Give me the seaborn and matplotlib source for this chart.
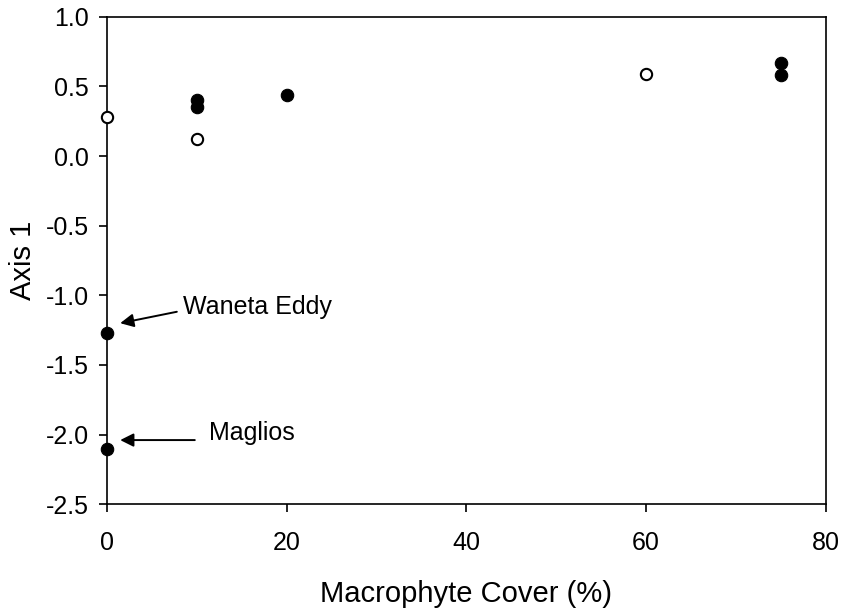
import matplotlib
matplotlib.use("Agg")
import matplotlib.pyplot as plt
import seaborn as sns
import pandas as pd

# Macrophyte cover (%) and ordination scores on axis 1
cover_open = [0, 10, 60]
axis1_open = [0.28, 0.12, 0.59]

cover_filled = [10, 10, 20, 75, 75, 0, 0]
axis1_filled = [0.40, 0.35, 0.44, 0.67, 0.58, -1.27, -2.10]

x_ticks = [0, 20, 40, 60, 80]
y_ticks = [-2.5, -2.0, -1.5, -1.0, -0.5, 0.0, 0.5, 1.0]

site_labels = ["Waneta Eddy", "Maglios"]
site_points = [(0, -1.27), (0, -2.10)]

sns.set_theme(style="white")
plt.rcParams["font.family"] = ["Liberation Sans", "DejaVu Sans"]

df_open = pd.DataFrame({"cover": cover_open, "axis1": axis1_open})
df_filled = pd.DataFrame({"cover": cover_filled, "axis1": axis1_filled})

fig = plt.figure(figsize=(8.42, 6.13), dpi=100)
W, H = 842, 613
left, right, top, bottom = 106.7, 826.0, 16.7, 504.3
ax = fig.add_axes([left / W, 1 - bottom / H, (right - left) / W, (bottom - top) / H])

sns.scatterplot(data=df_filled, x="cover", y="axis1", ax=ax, s=80,
                color="black", edgecolor="black", linewidth=0.8,
                clip_on=False, zorder=5, legend=False)
sns.scatterplot(data=df_open, x="cover", y="axis1", ax=ax, s=66,
                facecolor="white", edgecolor="black", linewidth=1.5,
                clip_on=False, zorder=5, legend=False)

ax.set_xlim(0, 80)
ax.set_ylim(-2.5, 1.0)
ax.set_xticks(x_ticks)
ax.set_xticklabels([f"{v:g}" for v in x_ticks])
ax.set_yticks(y_ticks)
ax.set_yticklabels([f"{v:.1f}" for v in y_ticks])

for sp in ax.spines.values():
    sp.set_linewidth(1.2)
    sp.set_color("black")

ax.tick_params(axis="both", which="both", direction="out", length=6,
               width=1.2, color="black", labelsize=18, labelcolor="black")
ax.tick_params(axis="x", pad=13)
ax.tick_params(axis="y", pad=7)
ax.tick_params(top=False, right=False, left=True, bottom=True)

ax.set_xlabel("Macrophyte Cover (%)", fontsize=21, labelpad=18, color="black")
ax.set_ylabel("Axis 1", fontsize=21, labelpad=6, color="black")

# Arrows pointing to the two outlying sites
arrow_kw = dict(arrowstyle="-|>", color="black", lw=1.4,
                mutation_scale=20, shrinkA=0, shrinkB=0)
tails = [(7.8, -1.118), (9.8, -2.039)]
heads = [(1.5, -1.20), (1.5, -2.039)]
text_pos = [(8.5, -1.082), (11.4, -1.989)]
for head, tail, lab, txt in zip(heads, tails, site_labels, text_pos):
    ax.annotate("", xy=head, xytext=tail, arrowprops=arrow_kw,
                annotation_clip=False)
    ax.text(txt[0], txt[1], lab, fontsize=18, ha="left", va="center", color="black")

fig.savefig("out.png", dpi=100)
